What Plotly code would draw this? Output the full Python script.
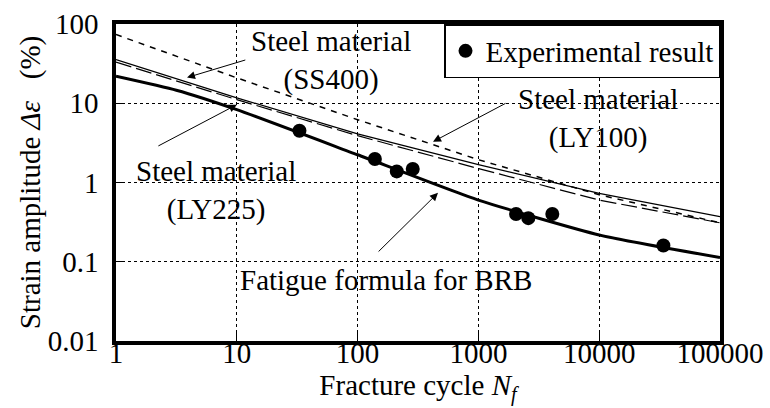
import numpy as np
import plotly.graph_objects as go

# ---- data ----
cycles_ref = [1, 10, 100, 1000, 10000, 100000]
ly100_strain = [73.6, 20.9, 6.2, 1.94, 0.70, 0.31]      # short dashed
ss400_strain = [35.6, 11.7, 4.1, 1.68, 0.73, 0.37]      # thin solid
ly225_strain = [33.0, 11.1, 3.9, 1.50, 0.60, 0.31]      # long dashed

brb_cycles = [1, 3.16, 10, 100, 1000, 10000, 100000]
brb_strain = [21.9, 14.6, 8.3, 2.24, 0.60, 0.218, 0.113]

exp_cycles = [33, 139, 211, 286, 2050, 2590, 4090, 34000]
exp_strain = [4.5, 1.98, 1.38, 1.48, 0.40, 0.355, 0.40, 0.16]

x_tick_vals = [1, 10, 100, 1000, 10000, 100000]
x_tick_text = ["1", "10", "100", "1000", "10000", "100000"]
y_tick_vals = [0.01, 0.1, 1, 10, 100]
y_tick_text = ["0.01", "0.1", "1", "10", "100"]

FONT = "'Liberation Serif', 'DejaVu Serif', serif"
FS = 29

fig = go.Figure()
fig.add_trace(go.Scatter(x=cycles_ref, y=ly100_strain, mode="lines",
                         line=dict(color="black", width=1.5, dash="6px,6px"),
                         showlegend=False, hoverinfo="skip"))
fig.add_trace(go.Scatter(x=cycles_ref, y=ss400_strain, mode="lines",
                         line=dict(color="black", width=1.2),
                         showlegend=False, hoverinfo="skip"))
fig.add_trace(go.Scatter(x=cycles_ref, y=ly225_strain, mode="lines",
                         line=dict(color="black", width=1.2, dash="16px,5px"),
                         showlegend=False, hoverinfo="skip"))
fig.add_trace(go.Scatter(x=brb_cycles, y=brb_strain, mode="lines",
                         line=dict(color="black", width=3, shape="spline", smoothing=0.5),
                         showlegend=False, hoverinfo="skip"))
fig.add_trace(go.Scatter(x=exp_cycles, y=exp_strain, mode="markers",
                         marker=dict(color="black", size=14),
                         name="Experimental result"))

L = np.log10
labels = [
    ("Steel material<br>(SS400)", 60.2, 34.6),
    ("Steel material<br>(LY100)", 9775, 6.48),
    ("Steel material<br>(LY225)", 6.73, 0.80),
    ("Fatigue formula for BRB", 172, 0.059),
]
for t, xx, yy in labels:
    fig.add_annotation(x=L(xx), y=L(yy), text=t, showarrow=False,
                       font=dict(family=FONT, size=FS, color="black"),
                       xanchor="center", yanchor="middle")

arrows = [
    ((3.87, 21.1), (12.1, 35.6)),
    ((421, 3.27), (1726, 10.2)),
    ((10.0, 9.6), (2.18, 2.83)),
    ((463, 0.74), (145, 0.129)),
]
for (hx, hy), (tx, ty) in arrows:
    fig.add_annotation(x=L(hx), y=L(hy), ax=L(tx), ay=L(ty),
                       axref="x", ayref="y", xref="x", yref="y",
                       text="", showarrow=True, arrowhead=2, arrowsize=1.6,
                       arrowwidth=1, arrowcolor="black")

axis_common = dict(type="log", showline=True, linecolor="black", linewidth=3.5,
                   mirror=True, showgrid=True, gridcolor="black", gridwidth=1,
                   griddash="3px,3px", ticks="inside", ticklen=8, tickcolor="black",
                   tickwidth=1, zeroline=False, automargin=False,
                   tickfont=dict(family=FONT, size=FS, color="black"))

fig.update_xaxes(range=[0, 5], tickvals=x_tick_vals, ticktext=x_tick_text,
                 ticklabelstandoff=-17,
                 title=dict(text="Fracture cycle <i>N</i><sub><i>f</i></sub>",
                            font=dict(family=FONT, size=FS, color="black"),
                            standoff=5),
                 **axis_common)
fig.update_yaxes(range=[-2, 2], tickvals=y_tick_vals, ticktext=y_tick_text,
                 ticklabelstandoff=8,
                 title=dict(text="Strain amplitude <i>Δε</i>\u00a0\u00a0\u00a0(%)",
                            font=dict(family=FONT, size=FS, color="black"),
                            standoff=0),
                 **axis_common)

fig.update_layout(
    width=770, height=408,
    margin=dict(l=116, r=50, t=24, b=67, autoexpand=False),
    paper_bgcolor="white", plot_bgcolor="white",
    font=dict(family=FONT, size=FS, color="black"),
    legend=dict(x=1, y=1, xanchor="right", yanchor="top",
                bordercolor="black", borderwidth=1.5, bgcolor="white",
                font=dict(family=FONT, size=FS, color="black")),
)

fig.write_html("out.html", config={"displayModeBar": False},
               post_script="document.body.style.margin='0';document.body.style.padding='0';")
